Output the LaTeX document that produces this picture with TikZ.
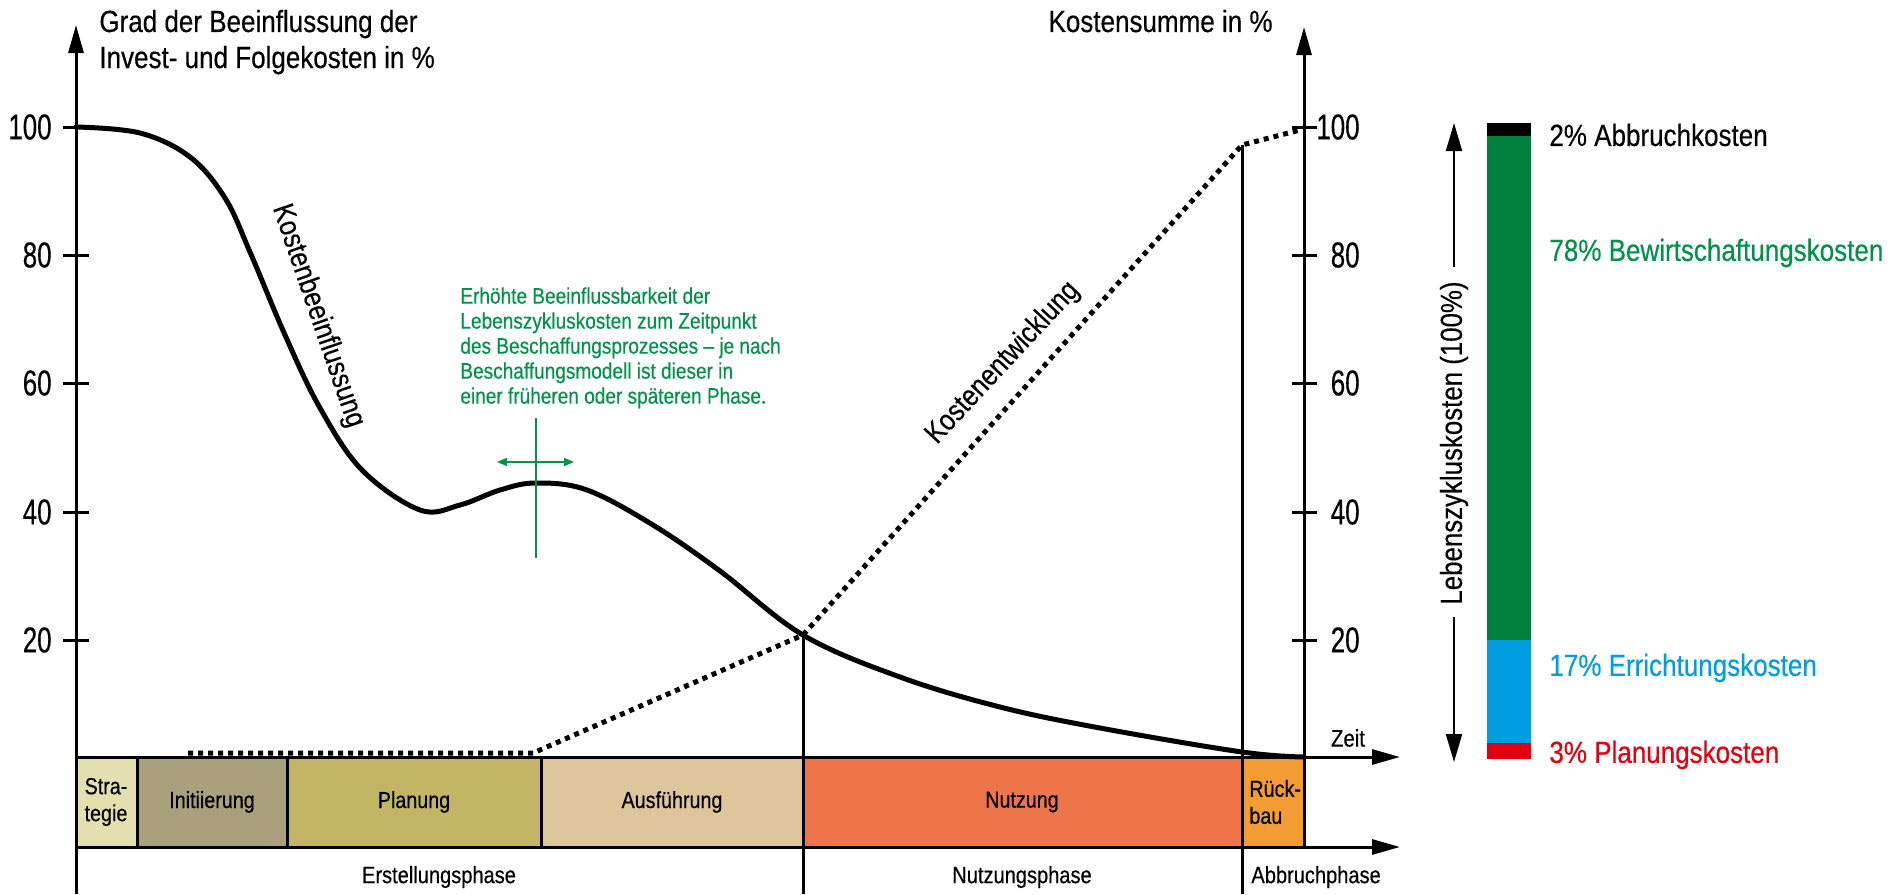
\documentclass[tikz,border=0pt]{standalone}
\usepackage{fontspec}
\setmainfont{Liberation Sans}[FakeStretch=0.85, FakeBold=0.4]
\newfontfamily\numfont{Liberation Sans}[FakeStretch=0.72, FakeBold=0.4]
\usetikzlibrary{arrows.meta}
\definecolor{BLACK}{HTML}{000000}
\definecolor{GREEN}{HTML}{00803C}
\definecolor{TXTGREEN}{HTML}{00914A}
\definecolor{BLUE}{HTML}{009EE0}
\definecolor{RED}{HTML}{E3000F}
\definecolor{STRAT}{HTML}{E3DFAF}
\definecolor{INIT}{HTML}{A8A17B}
\definecolor{PLAN}{HTML}{C2B666}
\definecolor{AUSF}{HTML}{DEC69C}
\definecolor{NUTZ}{HTML}{EE7449}
\definecolor{RUECK}{HTML}{F39C33}
\begin{document}
\begin{tikzpicture}[x=0.5pt, y=-0.5pt,
    axis/.style={BLACK, line width=1.5pt, -{Triangle[length=14pt,width=7.5pt]}},
    lzarrow/.style={BLACK, line width=1pt, -{Triangle[length=14pt,width=8pt]}},
    phase/.style={draw=BLACK, line width=1.5pt},
    numlbl/.style={inner sep=0pt, font=\numfont\fontsize{18}{20}\selectfont},
    boxlbl/.style={inner sep=0pt, align=left, font=\fontsize{11.6}{13.5}\selectfont},
    titlelbl/.style={inner sep=0pt, font=\fontsize{15.3}{18}\selectfont},
    curvelbl/.style={inner sep=0pt, font=\fontsize{14.8}{17}\selectfont},
    costlbl/.style={inner sep=0pt, anchor=west, font=\fontsize{15.3}{17}\selectfont}]
    \useasboundingbox (0,0) rectangle (1895,894);
    % Phasenbalken
    \filldraw[phase, fill=STRAT] (76,757) rectangle (137,847);
    \filldraw[phase, fill=INIT] (137,757) rectangle (287,847);
    \filldraw[phase, fill=PLAN] (287,757) rectangle (541,847);
    \filldraw[phase, fill=AUSF] (541,757) rectangle (803,847);
    \filldraw[phase, fill=NUTZ] (803,757) rectangle (1242,847);
    \filldraw[phase, fill=RUECK] (1242,757) rectangle (1304,847);
    \node[boxlbl] (strat) at (106,802) {Stra-\\tegie};
    \node[boxlbl] (init) at (212,802) {Initiierung};
    \node[boxlbl] (plan) at (414,802) {Planung};
    \node[boxlbl] (ausf) at (672,802) {Ausführung};
    \node[boxlbl] (nutz) at (1022,802) {Nutzung};
    \node[boxlbl, anchor=west] (rueck) at (1249,802) {Rück-\\bau};
    \node[boxlbl, font=\fontsize{11.8}{13.5}\selectfont] (erst) at (439,877) {Erstellungsphase};
    \node[boxlbl, font=\fontsize{11.8}{13.5}\selectfont] (nutzph) at (1022,877) {Nutzungsphase};
    \node[boxlbl, font=\fontsize{11.8}{13.5}\selectfont, anchor=west] (abbr) at (1251,877) {Abbruchphase};
    % Achsen
    \coordinate (ursprung) at (76,757);
    \coordinate (links) at (76,894);
    \coordinate (rechts) at (1304,847);
    \draw[axis] (links) -- (76,25);
    \draw[axis] (rechts) -- (1304,27);
    \draw[axis] (ursprung) -- (1400,757);
    \draw[axis] (76,847) -- (1400,847);
    \draw[BLACK, line width=1.5pt] (803,635) -- (803,894);
    \draw[BLACK, line width=1.5pt] (1242,145) -- (1242,894);
    \foreach \y/\v in {127/100, 255/80, 383/60, 512/40, 640/20} {
        \draw[BLACK, line width=1.5pt] (63,\y) -- (89,\y);
        \draw[BLACK, line width=1.5pt] (1292,\y) -- (1317,\y);
        \node[numlbl, anchor=east] at (52,\y) {\v};
        \node[numlbl, anchor=east] at (1360,\y) {\v};
    }
    \node[titlelbl, anchor=base west] (titel1) at (99,32) {Grad der Beeinflussung der};
    \node[titlelbl, anchor=base west] (titel2) at (99,68) {Invest- und Folgekosten in \%};
    \node[titlelbl, anchor=base east] (titel3) at (1273,32) {Kostensumme in \%};
    \node[boxlbl, font=\fontsize{12}{14}\selectfont] (zeit) at (1348,738) {Zeit};
    % Kurven
    \draw[BLACK, line width=2.5pt, line cap=round] plot[smooth, tension=0.6] coordinates {(76,127) (140,133) (190,157) (225,198) (250,252) (285,335) (320,408) (362,470) (420,510) (460,505) (500,490) (536,483) (587,490) (653,525) (720,571) (803,635) (900,677) (1000,707) (1100,728) (1242,752) (1304,757)};
    \draw[BLACK, line width=2.5pt, dash pattern=on 2.5pt off 2.5pt] (188,753) -- (533,753) -- (803,635) -- (1242,145) -- (1300,130);
    \node[curvelbl, rotate=-71] (beeinfl) at (318,316) {Kostenbeeinflussung};
    \node[curvelbl, rotate=47] (entw) at (1003,363) {Kostenentwicklung};
    % Beschaffungszeitpunkt
    \draw[TXTGREEN, line width=0.8pt] (536,418) -- (536,558);
    \draw[TXTGREEN, line width=0.8pt, {Triangle[length=5pt,width=4pt]}-{Triangle[length=5pt,width=4pt]}] (497,462) -- (574,462);
    \node[boxlbl, TXTGREEN, anchor=north west, font=\fontsize{11.2}{12.5}\selectfont] (hinweis) at (460,287) {Erhöhte Beeinflussbarkeit der\\Lebenszykluskosten zum Zeitpunkt\\des Beschaffungsprozesses -- je nach\\Beschaffungsmodell ist dieser in\\einer früheren oder späteren Phase.};
    % Lebenszykluskosten
    \fill[BLACK] (1487,123) rectangle (1531,136);
    \fill[GREEN] (1487,136) rectangle (1531,640);
    \fill[BLUE] (1487,640) rectangle (1531,743);
    \fill[RED] (1487,743) rectangle (1531,759);
    \node[curvelbl, font=\fontsize{15.2}{17}\selectfont, rotate=90] (lzk) at (1454,443) {Lebenszykluskosten (100\%)};
    \coordinate (lzoben) at (1454,123);
    \coordinate (lzunten) at (1454,762);
    \draw[lzarrow] (1454,267) -- (lzoben);
    \draw[lzarrow] (1454,617) -- (lzunten);
    \node[costlbl, BLACK] (abbruch) at (1549,135) {2\% Abbruchkosten};
    \node[costlbl, TXTGREEN] (bewirt) at (1549,253) {78\% Bewirtschaftungskosten};
    \node[costlbl, BLUE] (erricht) at (1549,668) {17\% Errichtungskosten};
    \node[costlbl, RED] (planung) at (1549,755) {3\% Planungskosten};
\end{tikzpicture}
\end{document}
